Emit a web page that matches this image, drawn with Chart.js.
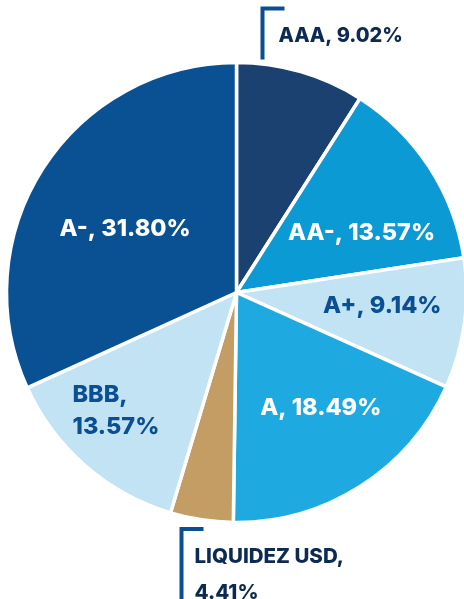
<!DOCTYPE html>
<html>
<head>
<meta charset="utf-8">
<script src="https://cdn.jsdelivr.net/npm/chart.js@4"></script>
<style>
  html, body { margin: 0; padding: 0; background: #fff; }
  #wrap { width: 464px; height: 599px; }
</style>
</head>
<body>
<div id="wrap"><canvas id="grafico" width="464" height="599"></canvas></div>
<script>
// data
var labels = ['AAA', 'AA-', 'A+', 'A', 'LIQUIDEZ USD', 'BBB', 'A-'];
var values = [9.02, 13.57, 9.14, 18.49, 4.41, 13.57, 31.80];

var sliceColors = ['#1b4170', '#0b9ad3', '#c2e3f4', '#1fa9e1', '#c39d64', '#c2e3f4', '#0a5194'];
var textColors = ['#0d2a52', '#ffffff', '#0a4f91', '#ffffff', '#0d2a52', '#0a4f91', '#ffffff'];

// where each label goes: inside ones at a share of the radius, turned a little off the mid angle
var place = [
    { callout: 'top', dx: 26, dy: -56, lineDown: 53 },
    { r: 0.606, da: 6.9 },
    { r: 0.636, da: -3.1 },
    { r: 0.613, da: -4.2 },
    { callout: 'bottom', dx: -55, dy: 4.5, lineDown: 80 },
    { r: 0.73, da: 4.8, twoLines: true },
    { r: 0.562, da: -2.3 }
];

var FONT = '"Inter", "DejaVu Sans", sans-serif';

var labelPlugin = {
    id: 'sliceLabels',
    afterDatasetsDraw: function (chart) {
        var ctx = chart.ctx;
        var meta = chart.getDatasetMeta(0);
        ctx.save();
        ctx.textBaseline = 'alphabetic';
        meta.data.forEach(function (arc, i) {
            var p = place[i];
            var pct = values[i].toFixed(2) + '%';
            ctx.fillStyle = textColors[i];

            if (p.callout) {
                // bracket line + text outside the pie
                var cx = arc.x + p.dx;
                var top = p.callout === 'top'
                    ? arc.y - arc.outerRadius + p.dy
                    : arc.y + arc.outerRadius + p.dy;
                ctx.strokeStyle = '#0a4f91';
                ctx.lineWidth = 4;
                ctx.beginPath();
                ctx.moveTo(cx + 22, top + 2);
                ctx.lineTo(cx, top + 2);
                ctx.lineTo(cx, top + p.lineDown);
                ctx.stroke();
                ctx.textAlign = 'left';
                if (p.callout === 'top') {
                    ctx.font = '800 20px ' + FONT;
                    ctx.fillText(labels[i] + ', ' + pct, cx + 16, top + 35);
                } else {
                    ctx.font = '800 20.5px ' + FONT;
                    ctx.fillText(labels[i] + ',', cx + 13, top + 36);
                    ctx.fillText(pct, cx + 13, top + 72);
                }
                return;
            }

            var mid = (arc.startAngle + arc.endAngle) / 2 + p.da * Math.PI / 180;
            var x = arc.x + Math.cos(mid) * arc.outerRadius * p.r;
            var y = arc.y + Math.sin(mid) * arc.outerRadius * p.r;
            ctx.font = '800 23.5px ' + FONT;
            if (p.twoLines) {
                var l1 = labels[i] + ',';
                var w = Math.max(ctx.measureText(l1).width, ctx.measureText(pct).width);
                ctx.textAlign = 'left';
                ctx.fillText(l1, x - w / 2, y - 7);
                ctx.fillText(pct, x - w / 2, y + 25);
            } else {
                ctx.textAlign = 'center';
                ctx.fillText(labels[i] + ', ' + pct, x, y + 9);
            }
        });
        ctx.restore();
    }
};

var ctx = document.querySelector('#grafico').getContext('2d');
var pieChart = new Chart(ctx, {
    type: 'pie',
    data: {
        labels: labels,
        datasets: [{
            data: values,
            backgroundColor: sliceColors,
            borderColor: '#ffffff',
            borderWidth: 3.5,
            radius: 230
        }]
    },
    options: {
        responsive: false,
        animation: false,
        layout: { padding: { left: 9, right: 0, top: 65, bottom: 79 } },
        plugins: {
            legend: { display: false },
            tooltip: { enabled: false }
        }
    },
    plugins: [labelPlugin]
});
</script>
</body>
</html>
